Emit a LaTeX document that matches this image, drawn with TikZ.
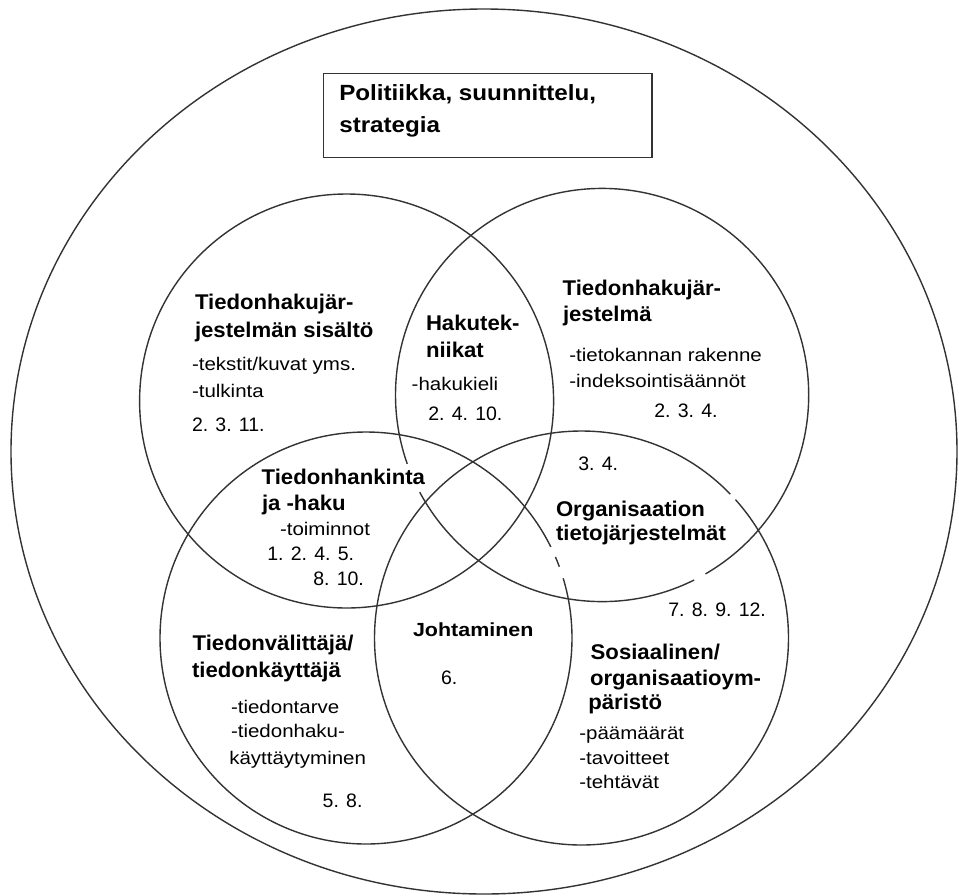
\documentclass[tikz,border=0pt]{standalone}
\usepackage{fontspec}
\setmainfont{Liberation Sans}
\newfontfamily\titlefont[FakeStretch=1.1]{Liberation Sans}
\newfontfamily\headfont[FakeStretch=1.04]{Liberation Sans}
\newfontfamily\johtfont[FakeStretch=1.13]{Liberation Sans}
\newfontfamily\bodyfont[FakeStretch=1.12]{Liberation Sans}
\newfontfamily\numfont{Liberation Sans}
\begin{document}
\begin{tikzpicture}[x=1pt,y=-1pt,
  ring/.style={draw=black!80, line width=1.4pt},
  gapline/.style={draw=white, line width=3.5pt},
  txt/.style={anchor=base west, inner sep=0pt, outer sep=0pt, text=black},
  ttl/.style={txt, font=\titlefont\bfseries\fontsize{22}{26}\selectfont},
  hd/.style={txt, font=\headfont\bfseries\fontsize{21.3}{25}\selectfont},
  jh/.style={txt, font=\johtfont\bfseries\fontsize{19}{23}\selectfont},
  bd/.style={txt, font=\bodyfont\fontsize{18.3}{22}\selectfont},
  nm/.style={txt, font=\numfont\fontsize{19.5}{23}\selectfont},
  framebox/.style={draw=black!80, line width=1.6pt, minimum width=328.4pt, minimum height=84pt, inner sep=0pt}
]
\useasboundingbox (0,0) rectangle (959,895);
\fill[white] (0,0) rectangle (959,895);

% outer ring and four circles
\draw[ring] (484,451.5) ellipse [x radius=473pt, y radius=442.5pt];
\draw[ring] (346.6,401) circle [radius=207pt];
\draw[ring] (602.1,395) circle [radius=206.6pt];
\draw[ring] (366,638) circle [radius=206pt];
\draw[ring] (581.5,638) circle [radius=207pt];

% small breaks in the circle lines
\draw[gapline] (366,638) ++(23.2:206pt) arc [start angle=23.2, end angle=26.2, radius=206pt];
\draw[gapline] (366,638) ++(16.9:206pt) arc [start angle=16.9, end angle=20.2, radius=206pt];
\draw[gapline] (602.1,395) ++(-63.5:206.6pt) arc [start angle=-63.5, end angle=-60, radius=206.6pt];
\draw[gapline] (602.1,395) ++(199.5:206.6pt) arc [start angle=199.5, end angle=208, radius=206.6pt];
\draw[gapline] (581.5,638) ++(42:207pt) arc [start angle=42, end angle=44, radius=207pt];

% title box
\node[framebox] (box) at (487.5,115.3) {};
\node[ttl] (ti1) at (339.3,100.7) {Politiikka, suunnittelu,};
\node[ttl] (ti2) at (339.3,132.7) {strategia};

% top-left circle
\node[hd] (a1) at (195,309.3) {Tiedonhakujär-};
\node[hd] (a2) at (195,337) {jestelmän sisältö};
\node[bd] (a3) at (192,370.7) {-tekstit/kuvat yms.};
\node[bd] (a4) at (192,397.3) {-tulkinta};
\node[nm] (a5) at (192,431.7) {2. 3. 11.};

% Hakutekniikat
\node[hd] (b1) at (426,330) {Hakutek-};
\node[hd] (b2) at (426,357.3) {niikat};
\node[bd] (b3) at (411.7,390) {-hakukieli};
\node[nm] (b4) at (428.3,420.7) {2. 4. 10.};

% top-right circle
\node[hd] (c1) at (562.7,295) {Tiedonhakujär-};
\node[hd] (c2) at (563,321.7) {jestelmä};
\node[bd] (c3) at (569.3,361.7) {-tietokannan rakenne};
\node[bd] (c4) at (569.3,387.3) {-indeksointisäännöt};
\node[nm] (c5) at (654.3,417.7) {2. 3. 4.};
\node[nm] (c6) at (578.3,470) {3. 4.};

% Organisaation tietojärjestelmät
\node[hd] (d1) at (556,516) {Organisaation};
\node[hd] (d2) at (556,540.7) {tietojärjestelmät};
\node[nm] (d3) at (668.3,616) {7. 8. 9. 12.};

% Tiedonhankinta ja -haku
\node[hd] (e1) at (261.7,484) {Tiedonhankinta};
\node[hd] (e2) at (262,510.7) {ja -haku};
\node[bd] (e3) at (280,535) {-toiminnot};
\node[nm] (e4) at (267.3,560.7) {1. 2. 4. 5.};
\node[nm] (e5) at (313.3,585) {8. 10.};

% Johtaminen
\node[jh] (f1) at (413,636) {Johtaminen};
\node[nm] (f2) at (441,684) {6.};

% bottom-left circle
\node[hd] (g1) at (192.7,650) {Tiedonvälittäjä/};
\node[hd] (g2) at (192,677.3) {tiedonkäyttäjä};
\node[bd] (g3) at (231,713.3) {-tiedontarve};
\node[bd] (g4) at (231,737.3) {-tiedonhaku-};
\node[bd] (g5) at (229.3,764) {käyttäytyminen};
\node[nm] (g6) at (322.7,807.3) {5. 8.};

% bottom-right circle
\node[hd] (h1) at (590.7,659.3) {Sosiaalinen/};
\node[hd] (h2) at (590,685.5) {organisaatioym-};
\node[hd] (h3) at (588.3,709) {päristö};
\node[bd] (h4) at (579.3,739.3) {-päämäärät};
\node[bd] (h5) at (579.3,764) {-tavoitteet};
\node[bd] (h6) at (579.3,788.3) {-tehtävät};
\end{tikzpicture}
\end{document}
